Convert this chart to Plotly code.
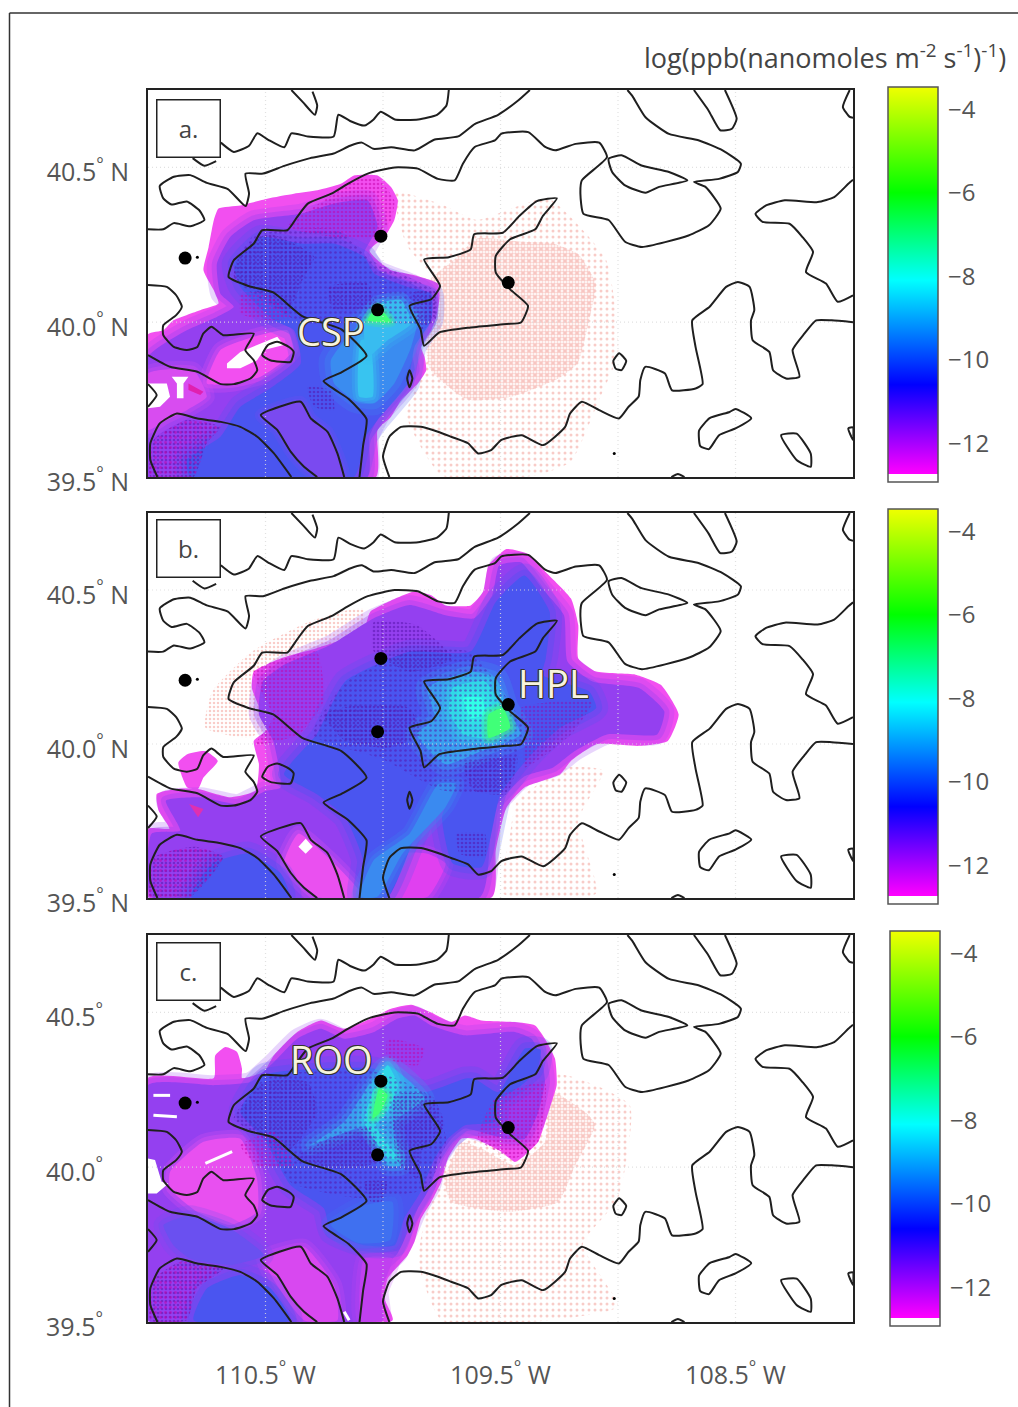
import plotly.graph_objects as go

W, H = 1018, 1407
# ---------- terrain contours, shared by all panels (lon, lat) ----------
C_ARC1 = [(-110.39,40.75),(-110.34,40.71),(-110.29,40.67),(-110.28,40.70),(-110.30,40.745)]
C_ARC2 = [(-110.81,40.53),(-110.76,40.505),(-110.71,40.52)]
C_B = [(-110.69,40.58),(-110.635,40.55),(-110.57,40.57),(-110.535,40.61),(-110.49,40.59),(-110.42,40.565),(-110.39,40.61),(-110.32,40.60),(-110.21,40.60),(-110.19,40.67),(-110.14,40.65),(-110.08,40.635),(-110.04,40.655),(-110.01,40.68),(-109.95,40.655),(-109.85,40.655),(-109.77,40.67),(-109.73,40.70),(-109.72,40.75)]
C_C = [(-111,40.30),(-110.935,40.30),(-110.89,40.32),(-110.82,40.31),(-110.76,40.33),(-110.78,40.36),(-110.835,40.39),(-110.90,40.38),(-110.935,40.40),(-110.95,40.44),(-110.89,40.47),(-110.82,40.475),(-110.75,40.45),(-110.66,40.43),(-110.585,40.375),(-110.57,40.415),(-110.585,40.48),(-110.51,40.48),(-110.42,40.505),(-110.31,40.53),(-110.21,40.545),(-110.14,40.57),(-110.09,40.58),(-110.04,40.56),(-109.965,40.565),(-109.865,40.555),(-109.78,40.59),(-109.68,40.60),(-109.61,40.64),(-109.51,40.67),(-109.425,40.716),(-109.375,40.75)]
C_D = [(-110.10,39.50),(-110.085,39.60),(-110.07,39.687),(-110.146,39.752),(-110.253,39.81),(-110.177,39.838),(-110.07,39.891),(-110.177,39.977),(-110.344,40.02),(-110.467,40.096),(-110.573,40.117),(-110.657,40.146),(-110.635,40.20),(-110.55,40.254),(-110.514,40.297),(-110.407,40.297),(-110.365,40.34),(-110.32,40.383),(-110.22,40.415),(-110.15,40.447),(-110.065,40.48),(-109.95,40.50),(-109.852,40.496),(-109.766,40.463),(-109.695,40.458),(-109.66,40.512),(-109.61,40.566),(-109.524,40.587),(-109.496,40.609),(-109.382,40.614),(-109.31,40.566),(-109.267,40.555),(-109.18,40.576),(-109.08,40.58),(-109.047,40.533),(-109.154,40.458),(-109.16,40.415),(-109.147,40.35),(-109.04,40.33),(-108.97,40.26),(-108.898,40.243),(-108.70,40.28),(-108.613,40.313),(-108.563,40.367),(-108.628,40.437),(-108.677,40.453),(-108.57,40.463),(-108.49,40.485),(-108.477,40.512),(-108.555,40.555),(-108.655,40.587),(-108.783,40.608),(-108.883,40.662),(-108.94,40.732),(-108.96,40.75)]
C_LENS = [(-109.04,40.528),(-108.985,40.539),(-108.90,40.506),(-108.783,40.485),(-108.705,40.458),(-108.825,40.437),(-108.883,40.418),(-108.97,40.442),(-109.025,40.485),(-109.04,40.528)]
C_TOPBLOB = [(-108.677,40.75),(-108.615,40.684),(-108.565,40.62),(-108.515,40.625),(-108.495,40.657),(-108.545,40.75)]
C_CORNER = [(-108.014,40.75),(-108.043,40.695),(-108.014,40.663),(-108.0,40.66)]
C_E = [(-108.0,40.46),(-108.02,40.447),(-108.08,40.404),(-108.15,40.388),(-108.29,40.394),(-108.37,40.377),(-108.415,40.35),(-108.385,40.324),(-108.27,40.318),(-108.215,40.275),(-108.17,40.227),(-108.2,40.162),(-108.115,40.125),(-108.065,40.066),(-108.0,40.087)]
C_F = [(-108.0,40.0),(-108.09,40.006),(-108.157,40.006),(-108.207,39.963),(-108.257,39.91),(-108.228,39.824),(-108.285,39.818),(-108.34,39.845),(-108.356,39.904),(-108.427,39.942),(-108.434,40.006),(-108.42,40.039),(-108.44,40.114),(-108.49,40.13),(-108.54,40.114),(-108.61,40.05),(-108.684,40.006),(-108.67,39.92),(-108.64,39.80),(-108.67,39.786),(-108.77,39.78),(-108.80,39.834),(-108.884,39.856),(-108.905,39.813),(-108.912,39.76),(-108.955,39.727),(-108.996,39.689),(-109.08,39.716),(-109.154,39.743),(-109.204,39.705),(-109.225,39.662),(-109.318,39.603),(-109.41,39.635),(-109.496,39.62),(-109.54,39.587),(-109.595,39.576),(-109.638,39.609),(-109.71,39.63),(-109.766,39.646),(-109.838,39.662),(-109.923,39.662),(-109.973,39.63),(-110.0,39.566),(-109.973,39.50)]
C_CIRCLE = [(-109.02,39.875),(-108.995,39.90),(-108.965,39.875),(-108.985,39.845),(-109.01,39.85),(-109.02,39.875)]
C_BLOB1 = [(-108.655,39.65),(-108.61,39.69),(-108.525,39.71),(-108.5,39.72),(-108.433,39.69),(-108.5,39.657),(-108.57,39.635),(-108.613,39.59),(-108.65,39.6),(-108.655,39.65)]
C_BLOB2 = [(-108.306,39.635),(-108.24,39.64),(-108.18,39.576),(-108.18,39.533),(-108.24,39.555),(-108.306,39.635)]
C_SMALL = [(-108.02,39.657),(-108.0,39.66),(-108.0,39.62),(-108.02,39.657)]
C_BOT = [(-108.773,39.50),(-108.745,39.51),(-108.717,39.50)]
C_STAR = [(-109.825,40.203),(-109.72,40.21),(-109.627,40.235),(-109.612,40.284),(-109.49,40.289),(-109.42,40.343),(-109.345,40.391),(-109.26,40.40),(-109.32,40.343),(-109.352,40.30),(-109.459,40.268),(-109.52,40.214),(-109.52,40.16),(-109.459,40.106),(-109.383,40.053),(-109.413,39.999),(-109.474,39.994),(-109.627,39.983),(-109.76,39.967),(-109.825,39.924),(-109.84,39.977),(-109.887,40.053),(-109.795,40.074),(-109.757,40.117),(-109.825,40.203)]
C_G = [(-111,40.12),(-110.92,40.114),(-110.88,40.087),(-110.856,40.05),(-110.88,40.023),(-110.935,39.99),(-110.935,39.958),(-110.89,39.92),(-110.835,39.91),(-110.79,39.92),(-110.765,39.963),(-110.73,39.985),(-110.68,39.958),(-110.55,39.963),(-110.586,39.91),(-110.55,39.877),(-110.535,39.845),(-110.564,39.818),(-110.635,39.80),(-110.69,39.80),(-110.79,39.84),(-110.906,39.856),(-111,39.894)]
C_H = [(-110.514,39.894),(-110.49,39.926),(-110.45,39.937),(-110.40,39.92),(-110.38,39.904),(-110.393,39.872),(-110.48,39.877),(-110.514,39.894)]
C_LEFT = [(-111,39.80),(-110.963,39.765),(-111,39.727)]
C_I = [(-110.96,39.50),(-110.99,39.555),(-110.99,39.609),(-110.95,39.673),(-110.877,39.705),(-110.79,39.689),(-110.69,39.678),(-110.607,39.662),(-110.535,39.63),(-110.464,39.576),(-110.39,39.50)]
C_J = [(-110.165,39.50),(-110.194,39.576),(-110.236,39.646),(-110.307,39.689),(-110.35,39.743),(-110.52,39.70),(-110.45,39.652),(-110.393,39.582),(-110.336,39.533),(-110.28,39.50)]
C_DIAMOND = [(-109.887,39.845),(-109.875,39.818),(-109.887,39.79),(-109.897,39.818),(-109.887,39.845)]
CONTOURS = [C_ARC1,C_ARC2,C_B,C_C,C_D,C_LENS,C_TOPBLOB,C_CORNER,C_E,C_F,C_CIRCLE,C_BLOB1,C_BLOB2,C_SMALL,C_BOT,C_STAR,C_G,C_H,C_LEFT,C_I,C_J,C_DIAMOND]

SITES_LON = [-110.842,-110.009,-110.023,-109.467]
SITES_LAT = [40.207,40.278,40.04,40.128]
MINOR_LON = [-110.79,-109.016]
MINOR_LAT = [40.21,39.576]

# ---------- panel a ----------
A_OUT = [(-111,39.50),(-111,39.961),(-110.934,39.974),(-110.892,40.006),(-110.778,40.039),(-110.70,40.06),(-110.72,40.103),(-110.764,40.168),(-110.742,40.243),(-110.72,40.329),(-110.70,40.367),(-110.607,40.377),(-110.493,40.399),(-110.379,40.415),(-110.279,40.426),(-110.18,40.447),(-110.123,40.474),(-110.023,40.474),(-109.966,40.437),(-109.937,40.394),(-109.952,40.329),(-109.994,40.275),(-110.058,40.232),(-110.023,40.20),(-109.966,40.168),(-109.866,40.152),(-109.766,40.125),(-109.759,40.082),(-109.773,40.017),(-109.795,39.974),(-109.838,39.92),(-109.823,39.888),(-109.816,39.845),(-109.852,39.802),(-109.923,39.748),(-109.966,39.695),(-110.023,39.652),(-110.03,39.50)]
A_PURPLE = [(-111,39.5),(-111,39.888),(-110.835,39.974),(-110.707,40.017),(-110.635,40.05),(-110.692,40.092),(-110.707,40.189),(-110.65,40.275),(-110.55,40.329),(-110.35,40.35),(-110.208,40.383),(-110.066,40.394),(-110.023,40.308),(-110.08,40.222),(-110.023,40.168),(-109.88,40.125),(-109.81,40.092),(-109.81,40.017),(-109.838,39.974),(-109.88,39.92),(-109.866,39.845),(-109.923,39.78),(-110.009,39.705),(-110.058,39.63),(-110.066,39.5)]
A_MAG1 = [(-110.75,39.802),(-110.692,39.91),(-110.55,39.953),(-110.407,39.974),(-110.379,39.91),(-110.436,39.867),(-110.521,39.824),(-110.635,39.802)]
A_MAG2 = [(-111,39.834),(-110.806,39.845),(-110.75,39.759),(-110.835,39.716),(-110.92,39.684),(-111,39.652)]
A_MAG3 = [(-110.407,40.308),(-110.208,40.415),(-110.123,40.458),(-110.023,40.463),(-109.952,40.394),(-109.966,40.329),(-110.037,40.275),(-110.208,40.275)]
A_BLUE = [(-110.82,39.5),(-110.835,39.555),(-110.692,39.63),(-110.607,39.727),(-110.493,39.78),(-110.35,39.867),(-110.379,39.974),(-110.464,40.006),(-110.607,40.114),(-110.635,40.189),(-110.521,40.275),(-110.35,40.254),(-110.208,40.254),(-110.08,40.211),(-110.037,40.157),(-109.895,40.114),(-109.795,40.092),(-109.795,40.006),(-109.866,39.92),(-109.895,39.802),(-110.023,39.684),(-110.073,39.63),(-110.123,39.5)]
A_TRI = [(-110.52,39.70),(-110.35,39.743),(-110.307,39.689),(-110.236,39.646),(-110.194,39.576),(-110.165,39.5),(-110.28,39.5),(-110.336,39.533),(-110.393,39.582),(-110.45,39.652)]
A_S1 = [(-110.635,40.146),(-110.607,40.222),(-110.493,40.286),(-110.379,40.254),(-110.293,40.211),(-110.35,40.125),(-110.407,40.028),(-110.521,40.092)]
A_S2 = [(-110.236,40.114),(-110.066,40.125),(-110.037,40.049),(-110.208,40.039)]
A_S3 = [(-109.88,40.092),(-109.78,40.103),(-109.78,40.017),(-109.838,39.974)]
A_S4 = [(-110.99,39.5),(-110.977,39.619),(-110.835,39.684),(-110.692,39.662),(-110.75,39.609),(-110.806,39.5)]
A_S5 = [(-110.607,40.092),(-110.493,40.092),(-110.393,40.017),(-110.493,40.006),(-110.607,40.028)]
A_S6 = [(-110.322,39.791),(-110.222,39.78),(-110.208,39.716),(-110.293,39.727)]
A_S7 = [(-110.64,40.15),(-110.55,40.28),(-110.2,40.3),(-110.05,40.2),(-109.78,40.1),(-109.78,40.0),(-110.05,40.0),(-110.35,40.0)]
A_LIGHT = [(-110.222,39.877),(-110.066,40.017),(-109.852,40.028),(-109.88,39.92),(-109.952,39.802),(-110.037,39.738),(-110.123,39.748),(-110.208,39.802)]
A_CYAN = [(-110.08,39.996),(-110.023,40.06),(-109.923,40.071),(-109.88,39.996),(-109.98,39.942),(-110.066,39.888)]
A_STREAK = [(-110.094,39.942),(-110.058,39.942),(-110.044,39.759),(-110.101,39.759)]
A_GREEN = [(-110.066,40.006),(-110.023,40.049),(-109.966,40.001)]
A_HOLE1 = [(-110.664,39.867),(-110.607,39.904),(-110.536,39.926),(-110.45,39.953),(-110.422,39.926),(-110.507,39.91),(-110.536,39.877),(-110.607,39.851),(-110.664,39.851)]
A_HOLE2 = [(-111,39.802),(-110.92,39.802),(-110.906,39.759),(-110.949,39.727),(-111,39.722)]
A_HOLE3 = [(-110.899,39.824),(-110.828,39.824),(-110.849,39.802),(-110.849,39.754),(-110.877,39.754),(-110.877,39.802)]
A_DAB = [(-110.828,39.802),(-110.764,39.775),(-110.778,39.765),(-110.828,39.781)]
A_PINK_DENSE = [(-109.82,40.12),(-109.70,40.20),(-109.60,40.27),(-109.41,40.26),(-109.28,40.255),(-109.17,40.22),(-109.095,40.125),(-109.125,40.0),(-109.17,39.87),(-109.25,39.82),(-109.45,39.76),(-109.64,39.75),(-109.8,39.85)]
A_PINK_SPARSE = [(-109.95,40.42),(-109.75,40.38),(-109.6,40.33),(-109.3,40.40),(-109.05,40.2),(-109.0,39.9),(-109.08,39.75),(-109.2,39.55),(-109.35,39.505),(-109.75,39.505),(-109.9,39.7),(-109.8,39.9),(-109.75,40.1),(-109.9,40.25)]

# ---------- panel b ----------
B_OUT = [(-111,39.504),(-111,39.725),(-110.909,39.725),(-110.955,39.784),(-110.963,39.838),(-110.879,39.854),(-110.787,39.854),(-110.65,39.827),(-110.543,39.848),(-110.528,39.934),(-110.55,40.01),(-110.482,40.053),(-110.512,40.096),(-110.558,40.182),(-110.55,40.235),(-110.436,40.278),(-110.283,40.311),(-110.085,40.365),(-110.054,40.429),(-109.947,40.472),(-109.871,40.494),(-109.795,40.483),(-109.734,40.45),(-109.627,40.45),(-109.574,40.494),(-109.551,40.58),(-109.474,40.633),(-109.383,40.617),(-109.307,40.558),(-109.2,40.472),(-109.169,40.386),(-109.169,40.278),(-109.093,40.235),(-108.925,40.225),(-108.818,40.192),(-108.742,40.096),(-108.788,40.01),(-108.91,39.994),(-109.093,39.999),(-109.2,39.945),(-109.246,39.902),(-109.398,39.859),(-109.474,39.795),(-109.52,39.655),(-109.535,39.504)]
B_LBLOB = [(-110.871,39.94),(-110.833,39.967),(-110.757,39.977),(-110.703,39.945),(-110.764,39.891),(-110.787,39.854),(-110.833,39.859)]
B_SBLOB = [(-110.482,39.924),(-110.383,39.897),(-110.406,39.87),(-110.497,39.87)]
B_PURPLE = [(-110.985,39.504),(-110.985,39.709),(-110.863,39.719),(-110.924,39.816),(-110.772,39.827),(-110.619,39.805),(-110.497,39.848),(-110.436,39.859),(-110.467,40.01),(-110.528,40.096),(-110.512,40.203),(-110.421,40.257),(-110.222,40.322),(-110.039,40.408),(-109.887,40.451),(-109.734,40.418),(-109.612,40.408),(-109.535,40.483),(-109.505,40.58),(-109.413,40.59),(-109.322,40.504),(-109.23,40.418),(-109.215,40.268),(-109.108,40.203),(-108.91,40.182),(-108.803,40.106),(-108.833,40.031),(-109.047,40.031),(-109.184,39.977),(-109.276,39.924),(-109.398,39.895),(-109.53,39.785),(-109.585,39.504)]
B_MAG1 = [(-110.36,39.709),(-110.222,39.623),(-110.085,39.504),(-110.283,39.504),(-110.421,39.612)]
B_MAG2 = [(-109.917,39.644),(-109.81,39.644),(-109.734,39.612),(-109.81,39.504),(-109.978,39.504)]
B_BLUE = [(-110.283,40.031),(-110.161,40.203),(-109.887,40.3),(-109.627,40.3),(-109.52,40.461),(-109.398,40.547),(-109.291,40.429),(-109.307,40.278),(-109.322,40.225),(-109.123,40.171),(-109.093,40.117),(-109.246,40.053),(-109.368,39.967),(-109.5,39.838),(-109.58,39.601),(-109.703,39.612),(-109.749,39.762),(-109.703,39.859),(-109.81,39.795),(-109.978,39.504),(-110.1,39.504),(-110.085,39.623),(-110.161,39.762),(-110.283,39.838),(-110.421,39.902)]
B_BLUE2 = [(-110.818,39.504),(-110.726,39.612),(-110.573,39.644),(-110.436,39.58),(-110.398,39.504)]
B_STREAK = [(-109.887,39.709),(-109.764,39.87),(-109.688,39.87),(-109.734,39.795),(-109.917,39.644),(-110.024,39.504),(-110.1,39.504),(-110.039,39.623)]
B_LIGHT = [(-109.81,40.182),(-109.627,40.235),(-109.52,40.214),(-109.474,40.117),(-109.413,40.031),(-109.581,39.977),(-109.734,39.934),(-109.856,40.031),(-109.78,40.085)]
B_CYAN = [(-109.703,40.182),(-109.566,40.203),(-109.49,40.096),(-109.551,40.02),(-109.658,40.031),(-109.719,40.106)]
B_CORE = [(-109.658,40.149),(-109.581,40.149),(-109.566,40.096),(-109.627,40.085)]
B_GREEN = [(-109.551,40.096),(-109.49,40.117),(-109.459,40.053),(-109.551,40.02)]
B_S1 = [(-110.253,40.096),(-110.1,40.128),(-109.887,40.117),(-109.84,40.031),(-109.978,39.988),(-110.161,40.01)]
B_S2 = [(-110.039,40.397),(-109.856,40.386),(-109.703,40.278),(-109.887,40.235),(-110.039,40.3)]
B_S3 = [(-109.413,40.117),(-109.108,40.139),(-109.2,40.031),(-109.398,39.924),(-109.398,40.031)]
B_S4 = [(-109.658,39.934),(-109.429,39.956),(-109.474,39.838),(-109.612,39.848)]
B_S5 = [(-110.993,39.504),(-110.97,39.633),(-110.802,39.666),(-110.68,39.633),(-110.818,39.504)]
B_S6 = [(-110.55,40.235),(-110.283,40.3),(-110.253,40.139),(-110.36,40.031),(-110.543,39.999),(-110.467,40.085)]
B_S7 = [(-109.688,39.709),(-109.566,39.709),(-109.566,39.633),(-109.673,39.644)]
B_S8 = [(-110.3,40.03),(-110.16,40.2),(-109.89,40.3),(-109.63,40.3),(-109.52,40.2),(-109.4,40.05),(-109.5,39.85),(-109.75,39.85),(-110.0,39.95)]
B_HOLE = [(-110.36,39.666),(-110.329,39.692),(-110.299,39.666),(-110.329,39.644)]
B_DAB = [(-110.825,39.805),(-110.764,39.789),(-110.787,39.762)]
B_PINK1 = [(-110.726,40.171),(-110.558,40.3),(-110.314,40.397),(-110.085,40.44),(-110.085,40.354),(-110.421,40.268),(-110.543,40.225),(-110.497,40.053),(-110.573,40.02),(-110.756,40.053)]
B_PINK2 = [(-109.429,39.816),(-109.215,39.924),(-109.062,39.913),(-109.169,39.752),(-109.093,39.515),(-109.49,39.515),(-109.459,39.709)]

# ---------- panel c ----------
C_OUT = [(-111,39.506),(-111,40.288),(-110.72,40.288),(-110.714,40.361),(-110.67,40.388),(-110.621,40.372),(-110.6,40.318),(-110.6,40.288),(-110.507,40.308),(-110.465,40.361),(-110.365,40.437),(-110.265,40.474),(-110.165,40.447),(-110.051,40.48),(-109.966,40.512),(-109.88,40.525),(-109.795,40.50),(-109.709,40.469),(-109.652,40.49),(-109.581,40.474),(-109.439,40.469),(-109.353,40.458),(-109.311,40.415),(-109.268,40.35),(-109.261,40.265),(-109.296,40.178),(-109.339,40.082),(-109.396,40.039),(-109.439,40.017),(-109.496,40.05),(-109.609,40.092),(-109.667,40.092),(-109.724,40.028),(-109.752,39.953),(-109.795,39.888),(-109.838,39.834),(-109.866,39.759),(-109.895,39.716),(-109.98,39.641),(-109.994,39.576),(-109.959,39.506)]
C_PURPLE = [(-111,39.506),(-111,40.265),(-110.721,40.265),(-110.564,40.275),(-110.464,40.34),(-110.365,40.415),(-110.265,40.447),(-110.165,40.415),(-110.037,40.437),(-109.937,40.48),(-109.866,40.49),(-109.795,40.458),(-109.652,40.426),(-109.439,40.437),(-109.368,40.415),(-109.325,40.351),(-109.311,40.275),(-109.339,40.178),(-109.396,40.092),(-109.482,40.092),(-109.652,40.125),(-109.709,40.092),(-109.766,40.028),(-109.795,39.942),(-109.852,39.867),(-109.895,39.791),(-109.94,39.72),(-110.03,39.655),(-110.09,39.506)]
C_MAG1 = [(-110.906,39.985),(-110.764,40.082),(-110.607,40.092),(-110.536,39.963),(-110.536,39.856),(-110.65,39.813),(-110.792,39.856),(-110.906,39.931)]
C_MAG2 = [(-110.507,39.705),(-110.336,39.743),(-110.208,39.619),(-110.194,39.506),(-110.336,39.506)]
C_MAG3 = [(-110.08,39.705),(-109.96,39.705),(-110.01,39.598),(-110.0,39.506),(-110.094,39.506)]
C_BLUE = [(-110.607,40.178),(-110.507,40.297),(-110.037,40.318),(-109.966,40.286),(-109.823,40.243),(-109.652,40.286),(-109.61,40.286),(-109.51,40.243),(-109.396,40.383),(-109.33,40.38),(-109.346,40.308),(-109.41,40.265),(-109.51,40.211),(-109.524,40.146),(-109.652,40.135),(-109.724,40.092),(-109.78,40.028),(-109.84,39.92),(-109.91,39.834),(-109.95,39.748),(-110.08,39.748),(-110.222,39.791),(-110.251,39.867),(-110.393,39.942),(-110.507,40.092)]
C_BLUE2 = [(-110.806,39.506),(-110.749,39.609),(-110.607,39.652),(-110.479,39.609),(-110.393,39.506)]
C_BLUE3 = [(-110.934,39.813),(-110.821,39.845),(-110.65,39.802),(-110.507,39.716),(-110.65,39.684),(-110.821,39.705),(-110.892,39.748)]
C_LIGHTB = [(-110.222,39.813),(-110.08,39.877),(-109.96,39.888),(-109.97,39.765),(-110.108,39.755)]
C_RAYS = [(-110.308,40.071),(-110.165,40.146),(-110.051,40.275),(-109.98,40.329),(-109.823,40.222),(-109.952,40.146),(-109.923,40.006),(-109.98,40.006),(-110.051,40.135),(-110.194,40.103)]
C_CYAN = [(-110.08,40.146),(-110.037,40.254),(-109.98,40.329),(-109.937,40.265),(-109.98,40.178),(-110.03,40.135),(-109.937,40.028),(-109.973,40.028)]
C_GREEN = [(-110.044,40.157),(-110.016,40.254),(-109.98,40.232),(-110.016,40.173)]
C_S1 = [(-110.635,40.157),(-110.507,40.275),(-110.322,40.275),(-110.279,40.178),(-110.407,40.05),(-110.507,40.092)]
C_S2 = [(-110.379,40.028),(-110.194,40.103),(-110.051,40.125),(-110.023,40.017),(-110.194,39.996)]
C_S3 = [(-109.952,40.232),(-109.795,40.232),(-109.738,40.135),(-109.838,40.05),(-109.852,39.963),(-109.937,40.017)]
C_S4 = [(-110.607,40.071),(-110.464,40.114),(-110.379,40.006),(-110.536,40.006)]
C_S5 = [(-109.98,40.415),(-109.823,40.383),(-109.852,40.329),(-109.98,40.351)]
C_S6 = [(-109.595,40.092),(-109.524,40.222),(-109.311,40.275),(-109.339,40.082),(-109.439,40.028)]
C_S7 = [(-110.99,39.506),(-110.97,39.641),(-110.863,39.695),(-110.678,39.673),(-110.792,39.609),(-110.835,39.506)]
C_S8 = [(-110.08,39.953),(-109.98,39.953),(-110.008,39.888),(-110.051,39.888)]
C_S9 = [(-110.6,40.17),(-110.5,40.29),(-110.04,40.31),(-109.82,40.24),(-109.73,40.09),(-109.82,39.93),(-110.1,39.9),(-110.39,39.95),(-110.5,40.09)]
C_HOLE = [(-111,40.028),(-110.97,40.023),(-110.942,39.953),(-110.913,39.947),(-110.963,39.915),(-111,39.915)]
C_GAP1 = [(-110.756,40.012),(-110.642,40.05)]
C_GAP2 = [(-110.977,40.232),(-110.906,40.232)]
C_GAP3 = [(-110.977,40.168),(-110.877,40.163)]
C_GAP4 = [(-110.165,39.533),(-110.144,39.506)]
C_PINK_DENSE = [(-109.667,40.082),(-109.581,40.06),(-109.439,40.006),(-109.311,40.082),(-109.282,40.243),(-109.125,40.168),(-109.097,40.135),(-109.182,40.006),(-109.254,39.888),(-109.467,39.856),(-109.709,39.888),(-109.738,39.953)]
C_PINK_SPARSE = [(-109.75,40.0),(-109.26,40.3),(-108.95,40.2),(-109.0,39.9),(-109.15,39.75),(-109.0,39.55),(-109.3,39.505),(-109.75,39.505),(-109.85,39.7)]

# ---------- colours and scale ----------
MAG, PUR, BLU, LIT, CYA, GRN = "#f24ff0", "#9440f0", "#4a55f0", "#3a8cf0", "#30d8e8", "#40ff78"
DARK, DMAG, PINK = "#5410a8", "#c400a8", "#f29a92"
SCALE_MIN, SCALE_MAX, SCALE_WHITE = -12.93, -3.47, -12.74
TICKS = [-4, -6, -8, -10, -12]
LON_TICKS = [-110.5, -109.5, -108.5]
LON_GRID = [-110.5, -110, -109.5, -109, -108.5]
LAT_GRID = [39.5, 40.0, 40.5]

def frac(v):
    return (v - SCALE_MIN) / (SCALE_MAX - SCALE_MIN)

COLORSCALE = [[0, "#ffffff"], [frac(SCALE_WHITE), "#ffffff"], [frac(SCALE_WHITE) + 1e-4, "#ff00ff"],
              [frac(-10.6), "#0000ff"], [frac(-8.1), "#00ffff"], [frac(-6.0), "#00ff00"], [1, "#f0ff00"]]

fig = go.Figure()

def rgba(hexcol, a):
    r, g, b = int(hexcol[1:3], 16), int(hexcol[3:5], 16), int(hexcol[5:7], 16)
    return f"rgba({r},{g},{b},{a})"

def poly(n, pts, color, spline=True, soft=0):
    xs, ys = [p[0] for p in pts] + [pts[0][0]], [p[1] for p in pts] + [pts[0][1]]
    if soft:
        for width, alpha in ((soft * 2, 0.22), (soft, 0.32)):
            fig.add_trace(go.Scatter(x=xs, y=ys, xaxis=f"x{n}", yaxis=f"y{n}", mode="lines",
                                     line=dict(width=width, color=rgba(color, alpha), shape="spline", smoothing=0.5),
                                     hoverinfo="skip", showlegend=False))
    fig.add_trace(go.Scatter(x=xs, y=ys, xaxis=f"x{n}", yaxis=f"y{n}", mode="lines", fill="toself", fillcolor=color,
                             line=dict(width=0, color=color, shape="spline" if spline else "linear", smoothing=0.5),
                             hoverinfo="skip", showlegend=False))

def speck(n, pts, color, size=4, solidity=0.36):
    fig.add_trace(go.Scatter(x=[p[0] for p in pts] + [pts[0][0]], y=[p[1] for p in pts] + [pts[0][1]],
                             xaxis=f"x{n}", yaxis=f"y{n}", mode="lines", fill="toself", fillcolor="rgba(0,0,0,0)",
                             fillpattern=dict(shape=".", fgcolor=color, size=size, solidity=solidity),
                             line=dict(width=0, shape="spline", smoothing=0.5), hoverinfo="skip", showlegend=False))

def gap(n, pts):
    fig.add_trace(go.Scatter(x=[p[0] for p in pts], y=[p[1] for p in pts], xaxis=f"x{n}", yaxis=f"y{n}", mode="lines",
                             line=dict(color="white", width=3), hoverinfo="skip", showlegend=False))

# panel a
speck("", A_PINK_SPARSE, PINK, 6, 0.2); speck("", A_PINK_DENSE, PINK, 3, 0.5)
poly("", A_OUT, MAG); poly("", A_PURPLE, PUR, soft=10); poly("", A_MAG1, MAG, soft=8); poly("", A_MAG2, "#d84cf0", soft=8); poly("", A_BLUE, BLU, soft=12)
poly("", A_TRI, "#7a4af0", soft=6); poly("", A_LIGHT, LIT, soft=12); poly("", A_STREAK, "#38c4f0", soft=6); poly("", A_CYAN, "#38bcf0", soft=8)
speck("", A_S7, DARK, 5, 0.22)
for s in (A_S1, A_S2, A_S3, A_S4, A_S6): speck("", s, DARK)
speck("", A_MAG3, DMAG); speck("", A_S5, DMAG); speck("", A_S4, DMAG, 5, 0.25)
poly("", A_GREEN, GRN, soft=5); poly("", A_DAB, "#e020b0", False)
for s in (A_HOLE1, A_HOLE2, A_HOLE3): poly("", s, "#ffffff", False)

# panel b
speck(2, B_PINK1, PINK, 4, 0.3); speck(2, B_PINK2, PINK, 6, 0.2)
poly(2, B_OUT, MAG); poly(2, B_LBLOB, MAG); poly(2, B_SBLOB, MAG); poly(2, B_PURPLE, PUR, soft=10)
poly(2, B_MAG1, "#ea50f0", soft=8); poly(2, B_MAG2, "#e040f0", soft=8); poly(2, B_BLUE, BLU, soft=12); poly(2, B_BLUE2, BLU, soft=12)
poly(2, B_STREAK, "#3a8af0", soft=8); poly(2, B_LIGHT, "#3a9ff0", soft=12); poly(2, B_CYAN, CYA, soft=10); poly(2, B_CORE, "#30ffe8", soft=8)
speck(2, B_S8, DARK, 5, 0.22)
for s in (B_S1, B_S2, B_S4, B_S5, B_S7): speck(2, s, DARK)
speck(2, B_S3, "#8a10b0"); speck(2, B_S6, DMAG); speck(2, B_S5, DMAG, 5, 0.25)
poly(2, B_GREEN, GRN, soft=6); poly(2, B_DAB, "#e030b0", False); poly(2, B_HOLE, "#ffffff", False)

# panel c
speck(3, C_PINK_SPARSE, PINK, 6, 0.2); speck(3, C_PINK_DENSE, PINK, 3, 0.5)
poly(3, C_OUT, MAG); poly(3, C_PURPLE, PUR, soft=10); poly(3, C_MAG1, "#e850f0", soft=8); poly(3, C_MAG2, "#d848f0", soft=8); poly(3, C_MAG3, "#c040f0", soft=8)
poly(3, C_BLUE, BLU, soft=12); poly(3, C_BLUE2, BLU, soft=12); poly(3, C_BLUE3, "#6a50f0", soft=10); poly(3, C_LIGHTB, "#3f70f0", soft=10)
poly(3, C_RAYS, "#3a9ff0", soft=10); poly(3, C_CYAN, CYA, soft=8)
speck(3, C_S9, DARK, 5, 0.22)
for s in (C_S1, C_S2, C_S3, C_S7, C_S8): speck(3, s, DARK)
speck(3, C_S4, DMAG); speck(3, C_S5, DMAG); speck(3, C_S6, DMAG); speck(3, C_S7, DMAG, 5, 0.25)
poly(3, C_GREEN, GRN, soft=5); poly(3, C_HOLE, "#ffffff", False)
for g in (C_GAP1, C_GAP2, C_GAP3, C_GAP4): gap(3, g)

BARS = [(87, 888), (509, 888), (931, 890)]
for i, n in enumerate(["", 2, 3]):
    for lon in LON_GRID:
        fig.add_trace(go.Scatter(x=[lon, lon], y=[39.5, 40.75], xaxis=f"x{n}", yaxis=f"y{n}", mode="lines",
                                 line=dict(color="rgba(220,220,220,0.85)", width=1.2, dash="1px 3px"), hoverinfo="skip", showlegend=False))
    for lat in LAT_GRID[1:]:
        fig.add_trace(go.Scatter(x=[-111, -108], y=[lat, lat], xaxis=f"x{n}", yaxis=f"y{n}", mode="lines",
                                 line=dict(color="rgba(220,220,220,0.85)", width=1.2, dash="1px 3px"), hoverinfo="skip", showlegend=False))
    for c in CONTOURS:
        fig.add_trace(go.Scatter(x=[p[0] for p in c], y=[p[1] for p in c], xaxis=f"x{n}", yaxis=f"y{n}", mode="lines",
                                 line=dict(color="#1f1f1f", width=2, shape="spline", smoothing=0.5), hoverinfo="skip", showlegend=False))
    fig.add_trace(go.Scatter(x=MINOR_LON, y=MINOR_LAT, xaxis=f"x{n}", yaxis=f"y{n}", mode="markers",
                             marker=dict(color="black", size=3), hoverinfo="skip", showlegend=False))
    fig.add_trace(go.Scatter(x=SITES_LON, y=SITES_LAT, xaxis=f"x{n}", yaxis=f"y{n}", mode="markers",
                             marker=dict(color="black", size=13), hoverinfo="skip", showlegend=False))
    top, left = BARS[i]
    fig.add_trace(go.Heatmap(x=[-111, -110.9], y=[39.5, 39.6], z=[[SCALE_MIN, SCALE_MAX], [SCALE_MIN, SCALE_MAX]],
                             xaxis=f"x{n}", yaxis=f"y{n}", opacity=0, hoverinfo="skip", zmin=SCALE_MIN, zmax=SCALE_MAX,
                             colorscale=COLORSCALE,
                             colorbar=dict(x=left / W, xanchor="left", xpad=0, y=1 - (top + 395) / H, yanchor="bottom", ypad=0,
                                           len=395, lenmode="pixels", thickness=50, thicknessmode="pixels",
                                           outlinecolor="#555555", outlinewidth=1.5, tickvals=TICKS, ticktext=["−" + str(-t) for t in TICKS],
                                           ticks="outside", ticklen=5, tickcolor="rgba(255,255,255,0)",
                                           tickfont=dict(family="Open Sans", size=24, color="#555555"))))

FONT = dict(family="Open Sans", size=25, color="#555555")
TOPS = [(90, 477), (513, 898), (935, 1322)]
def dom(t, b):
    return [1 - b / H, 1 - t / H]

layout = dict(width=W, height=H, margin=dict(l=0, r=0, t=0, b=0, autoexpand=False), paper_bgcolor="white", plot_bgcolor="white", showlegend=False)
for i, n in enumerate(["", 2, 3]):
    xa = dict(domain=[148 / W, 853 / W], range=[-111, -108], anchor=f"y{n}", showgrid=False, zeroline=False,
              showline=True, mirror=True, linecolor="#222222", linewidth=2, ticks="",
              tickvals=LON_TICKS if i == 2 else [], ticktext=["110.5<sup>°</sup> W", "109.5<sup>°</sup> W", "108.5<sup>°</sup> W"] if i == 2 else [],
              tickfont=FONT, ticklabelstandoff=30)
    suffix = " N" if i < 2 else ""
    ya = dict(domain=dom(*TOPS[i]), range=[39.5, 40.75], anchor=f"x{n}", showgrid=False, zeroline=False,
              showline=True, mirror=True, linecolor="#222222", linewidth=2, ticks="",
              tickvals=LAT_GRID, ticktext=[f"{v:.1f}<sup>°</sup>{suffix}" for v in LAT_GRID], tickfont=FONT,
              ticklabelstandoff=12 if i < 2 else 38, ticklabelshift=5)
    layout[f"xaxis{n}"] = xa
    layout[f"yaxis{n}"] = ya

def note(text, px, py, **kw):
    return dict(text=text, x=px / W, y=1 - py / H, xref="paper", yref="paper", showarrow=False, xanchor="center", yanchor="middle", **kw)

BOX_FONT = dict(family="Open Sans", size=24, color="#444444")
LABEL_SHADOW = "1px 0 0 #333, -1px 0 0 #333, 0 1px 0 #333, 0 -1px 0 #333, 1px 1px 0 #333, -1px -1px 0 #333"
LABEL_FONT = dict(family="Open Sans", size=38, color="#f8f4dc", shadow=LABEL_SHADOW)
layout["annotations"] = [
    note("log(ppb(nanomoles m<sup>-2</sup> s<sup>-1</sup>)<sup>-1</sup>)", 825, 56, font=dict(family="Open Sans", size=27, color="#444444")),
    note("a.", 188, 128, font=BOX_FONT, width=60, height=54, bgcolor="white", bordercolor="#222222", borderwidth=1.5),
    note("b.", 188, 549, font=BOX_FONT, width=60, height=54, bgcolor="white", bordercolor="#222222", borderwidth=1.5),
    note("c.", 188, 971, font=BOX_FONT, width=60, height=54, bgcolor="white", bordercolor="#222222", borderwidth=1.5),
    note("CSP", 331, 331, font=LABEL_FONT),
    note("HPL", 553, 683, font=LABEL_FONT),
    note("ROO", 331, 1059, font=LABEL_FONT),
]
layout["shapes"] = [
    dict(type="line", xref="paper", yref="paper", x0=9.5 / W, x1=1, y0=1 - 13 / H, y1=1 - 13 / H, line=dict(color="#333333", width=1.5)),
    dict(type="line", xref="paper", yref="paper", x0=9.5 / W, x1=9.5 / W, y0=0, y1=1 - 13 / H, line=dict(color="#333333", width=1.5)),
]
fig.update_layout(**layout)
fig.write_html("out.html", config=dict(displayModeBar=False), post_script="document.body.style.margin='0';")
